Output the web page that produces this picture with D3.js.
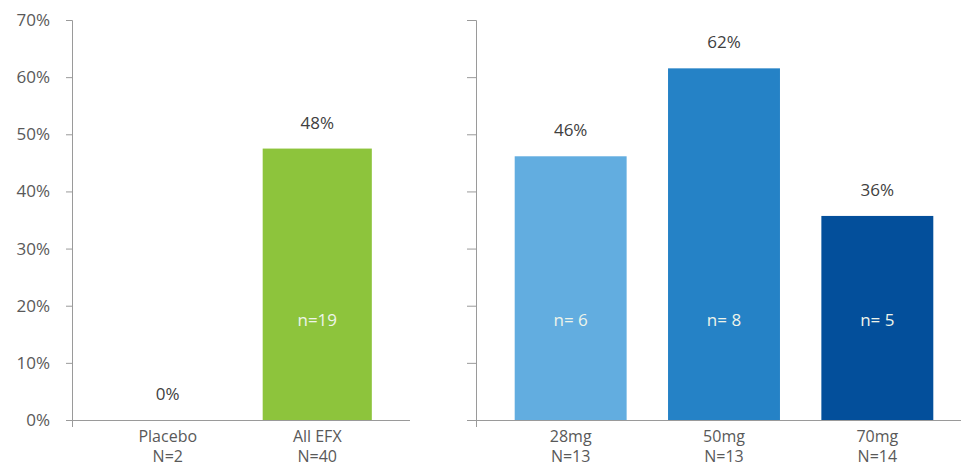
<!DOCTYPE html>
<html><head><meta charset="utf-8">
<script src="https://cdn.jsdelivr.net/npm/d3@7"></script>
<style>body{margin:0;background:#fff}svg{display:block}text{font-family:"Open Sans",sans-serif}</style>
</head><body><svg id="c" width="961" height="469"></svg>
<script>
const leftCats = ["Placebo", "All EFX"];
const leftN = ["N=2", "N=40"];
const leftVals = [0, 0.475];
const leftLabels = ["0%", "48%"];
const leftInner = ["", "n=19"];
const rightCats = ["28mg", "50mg", "70mg"];
const rightN = ["N=13", "N=13", "N=14"];
const rightVals = [0.4615, 0.6154, 0.3571];
const rightLabels = ["46%", "62%", "36%"];
const rightInner = ["n= 6", "n= 8", "n= 5"];
const yTicks = [0, 0.1, 0.2, 0.3, 0.4, 0.5, 0.6, 0.7];
const leftColors = ["#8dc43c", "#8dc43c"];
const rightColors = ["#62ade0", "#2582c6", "#034f9b"];

const svg = d3.select("#c");
const y = d3.scaleLinear().domain([0, 0.7]).range([420, 20]);
const axisColor = "#9a9a9a";

function panel(axisX, axisEnd, bandRange, cats, ns, vals, labels, inner, colors, showLabels) {
  const g = svg.append("g");
  const x = d3.scaleBand().domain(cats).range(bandRange).paddingInner(0.27).paddingOuter(0.135);
  const ya = d3.axisLeft(y).tickValues(yTicks).tickSize(showLabels ? 6 : 9).tickPadding(16)
    .tickFormat(d => showLabels ? d3.format(".0%")(d) : "");
  const yg = g.append("g").attr("transform", `translate(${axisX},0)`).call(ya);
  yg.select(".domain").attr("stroke", axisColor).attr("d", `M${showLabels?-6:-9},20.5H0.5V427`);
  yg.selectAll(".tick line").attr("stroke", axisColor);
  yg.selectAll(".tick text").attr("fill", "#595959").style("font-size", "17px");
  g.append("line").attr("x1", axisX - (showLabels ? 6 : 9)).attr("x2", axisEnd)
    .attr("y1", y(0) + 0.5).attr("y2", y(0) + 0.5).attr("stroke", axisColor);
  g.selectAll("rect.bar").data(cats).join("rect").attr("class", "bar")
    .attr("x", d => x(d)).attr("width", x.bandwidth())
    .attr("y", (d, i) => y(vals[i])).attr("height", (d, i) => y(0) - y(vals[i]))
    .attr("fill", (d, i) => colors[i]);
  g.selectAll("text.val").data(cats).join("text").attr("class", "val")
    .attr("x", d => x(d) + x.bandwidth() / 2).attr("y", (d, i) => y(vals[i]) - 20)
    .attr("text-anchor", "middle").attr("fill", "#404040").style("font-size", "17px")
    .text((d, i) => labels[i]);
  g.selectAll("text.inn").data(cats).join("text").attr("class", "inn")
    .attr("x", d => x(d) + x.bandwidth() / 2).attr("y", y(0.175)).attr("dy", "0.35em")
    .attr("text-anchor", "middle").attr("fill", "#eef4ea").style("font-size", "17px")
    .text((d, i) => inner[i]);
  const cl = g.selectAll("text.cat").data(cats).join("text").attr("class", "cat")
    .attr("x", d => x(d) + x.bandwidth() / 2).attr("text-anchor", "middle")
    .attr("fill", "#595959").style("font-size", "16px");
  cl.append("tspan").attr("x", d => x(d) + x.bandwidth() / 2).attr("y", 442).text(d => d);
  cl.append("tspan").attr("x", d => x(d) + x.bandwidth() / 2).attr("y", 462).text((d, i) => ns[i]);
}

panel(72, 410, [93, 392], leftCats, leftN, leftVals, leftLabels, leftInner, leftColors, true);
panel(476, 961, [494, 954], rightCats, rightN, rightVals, rightLabels, rightInner, rightColors, false);
</script></body></html>
